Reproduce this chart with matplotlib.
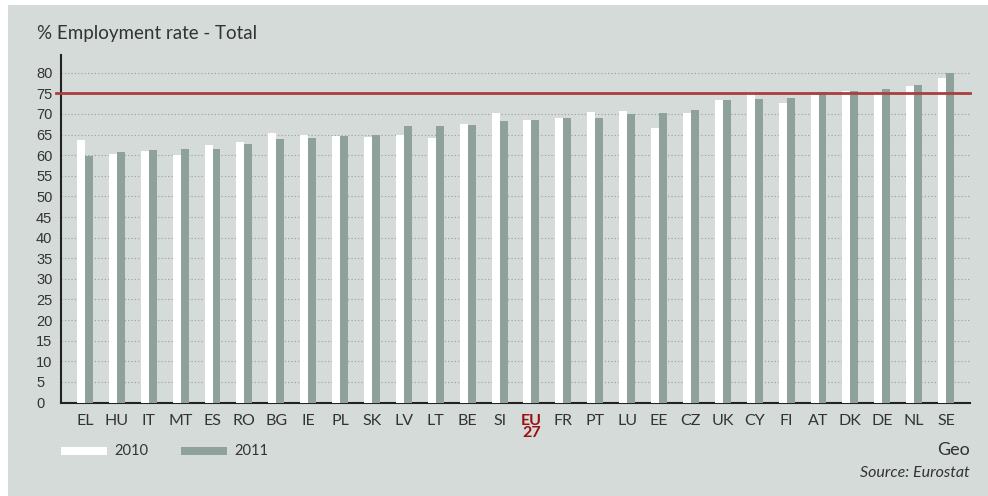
import matplotlib.pyplot as plt
from matplotlib.patches import Rectangle
import numpy as np

# colours
bg_color = '#d5dbd9'
bar_2011_color = '#8fa19b'
target_color = '#a8403f'
eu_color = '#9b1010'
text_color = '#333333'

# employment rate data
countries = ['EL', 'HU', 'IT', 'MT', 'ES', 'RO', 'BG', 'IE', 'PL', 'SK',
             'LV', 'LT', 'BE', 'SI', 'EU\n27', 'FR', 'PT', 'LU', 'EE', 'CZ',
             'UK', 'CY', 'FI', 'AT', 'DK', 'DE', 'NL', 'SE']
rate_2010 = [63.7, 60.3, 61.0, 60.1, 62.5, 63.2, 65.4, 64.9, 64.7, 64.4,
             65.0, 64.2, 67.6, 70.3, 68.6, 69.1, 70.5, 70.7, 66.6, 70.3,
             73.5, 75.4, 72.7, 74.6, 75.6, 74.9, 76.8, 78.7]
rate_2011 = [59.8, 60.8, 61.3, 61.5, 61.5, 62.7, 63.9, 64.2, 64.7, 64.9,
             67.1, 67.1, 67.4, 68.3, 68.6, 69.1, 69.1, 70.0, 70.3, 71.0,
             73.5, 73.7, 73.9, 75.4, 75.6, 76.1, 77.1, 80.0]
target = 75
y_ticks = list(range(0, 85, 5))

plt.rcParams['font.family'] = ['Lato', 'DejaVu Sans']

fig = plt.figure(figsize=(9.88, 4.96), dpi=100)
fig.patch.set_facecolor('white')
# grey panel with a thin white margin on the top and left
fig.patches.append(Rectangle((8 / 988, 0), 1, 491 / 496, transform=fig.transFigure,
                             facecolor=bg_color, edgecolor='none', zorder=-10))

ax = fig.add_axes([61 / 988, 93.5 / 496, 909 / 988, 347.5 / 496])
ax.set_facecolor(bg_color)

x = np.arange(len(countries))
width = 0.25
ax.bar(x - width / 2, rate_2010, width, color='white', zorder=3)
ax.bar(x + width / 2, rate_2011, width, color=bar_2011_color, zorder=3)

# 75% target line
ax.axhline(target, xmin=-0.005, xmax=1.0, color=target_color, lw=2,
           zorder=4, clip_on=False)

ax.set_xlim(-0.75, len(countries) - 0.25)
ax.set_ylim(0, 84.3)
ax.set_yticks(y_ticks)
ax.set_yticklabels([str(v) for v in y_ticks], family='Liberation Sans',
                   fontsize=10.5, color=text_color)
for lab in ax.get_yticklabels():
    lab.set_horizontalalignment('left')
ax.tick_params(axis='y', length=0, pad=18)

# dotted gridlines, none on zero
for v in y_ticks[1:]:
    ax.axhline(v, color='#999d9b', lw=0.8, ls=(0, (1, 2)), zorder=1)

ax.set_xticks(x)
ax.set_xticklabels(countries, fontsize=11.5, color=text_color, linespacing=0.85,
                   va='top')
ax.tick_params(axis='x', length=0, pad=8)
eu_label = ax.get_xticklabels()[countries.index('EU\n27')]
eu_label.set_color(eu_color)
eu_label.set_fontweight('bold')

for side in ['top', 'right']:
    ax.spines[side].set_visible(False)
ax.spines['left'].set_color('#222222')
ax.spines['left'].set_linewidth(1.5)
ax.spines['bottom'].set_color('#222222')
ax.spines['bottom'].set_linewidth(1.5)

# title
fig.text(37 / 988, 1 - 34 / 496, '% Employment rate - Total', fontsize=13.5,
         color=text_color, va='center', ha='left')

# legend
fig.patches.append(Rectangle((61 / 988, 1 - 455 / 496), 46 / 988, 8 / 496,
                             transform=fig.transFigure, facecolor='white',
                             edgecolor='none'))
fig.text(114 / 988, 1 - 451 / 496, '2010', fontsize=10.5, color=text_color,
         va='center', ha='left')
fig.patches.append(Rectangle((181 / 988, 1 - 455 / 496), 46 / 988, 8 / 496,
                             transform=fig.transFigure, facecolor=bar_2011_color,
                             edgecolor='none'))
fig.text(234 / 988, 1 - 451 / 496, '2011', fontsize=10.5, color=text_color,
         va='center', ha='left')

fig.text(970 / 988, 1 - 450 / 496, 'Geo', fontsize=13,
         color=text_color, va='center', ha='right')
fig.text(970 / 988, 1 - 473 / 496, 'Source: Eurostat', fontsize=11.5,
         style='italic', color=text_color, va='center', ha='right')

fig.savefig('out.png', dpi=100, facecolor=fig.get_facecolor())
